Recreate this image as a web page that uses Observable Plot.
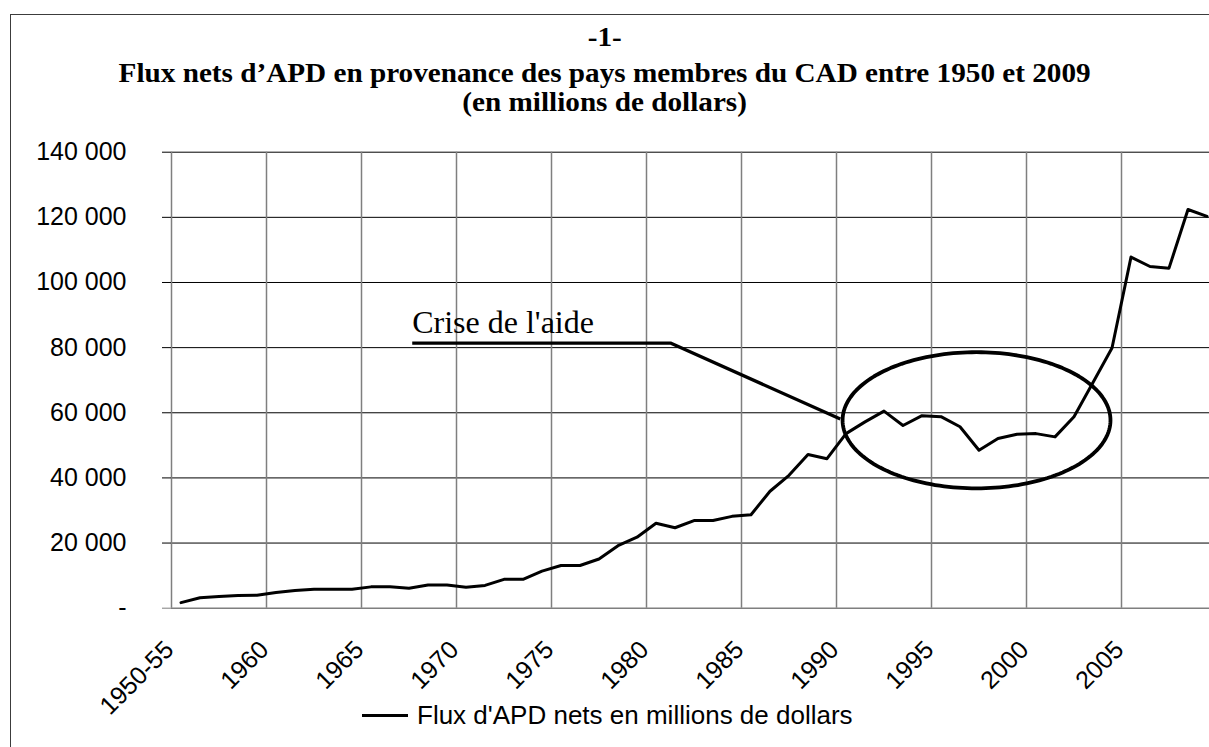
<!DOCTYPE html>
<html>
<head>
<meta charset="utf-8">
<script src="https://cdn.jsdelivr.net/npm/d3@7"></script>
<script src="https://cdn.jsdelivr.net/npm/@observablehq/plot@0.6"></script>
<style>
  html, body { margin: 0; padding: 0; background: #fff; overflow: hidden; }
  #wrap { position: relative; width: 1209px; height: 747px; overflow: hidden; background: #fff; }
  #frame { position: absolute; left: 10px; top: 14px; width: 1400px; height: 900px; border: 1px solid #3c3c3c; box-sizing: border-box; pointer-events: none; }
  .t { position: absolute; left: 0; width: 1209px; text-align: center; white-space: nowrap;
       font-family: "Liberation Serif", "Times New Roman", serif; font-weight: bold; color: #000;
       font-size: 27px; line-height: 27px; }
  .t span { display: inline-block; transform-origin: 50% 50%; }
  #chart { position: absolute; left: 0; top: 130px; }
  #legend { position: absolute; left: 362px; top: 702px; height: 26px; white-space: nowrap;
            font-family: "Liberation Sans", Arial, sans-serif; font-size: 26px; line-height: 26px; color: #000; }
  #legend .sw { display: inline-block; width: 46px; height: 0; border-top: 3px solid #000; vertical-align: middle; margin-right: 9px; position: relative; top: -2px; }
</style>
</head>
<body>
<div id="wrap">
  <div id="frame"></div>
  <div class="t" id="t1" style="top:24px"><span></span></div>
  <div class="t" id="t2" style="top:60px"><span></span></div>
  <div class="t" id="t3" style="top:89px"><span></span></div>
  <div id="chart"></div>
  <div id="legend"><span class="sw"></span><span id="legtext"></span></div>
</div>
<script>
// ---- Data ----
const titleLines = ["-1-", "Flux nets d\u2019APD en provenance des pays membres du CAD entre 1950 et 2009", "(en millions de dollars)"];
const seriesName = "Flux d'APD nets en millions de dollars";

const categories = ["1950-55","1956","1957","1958","1959","1960","1961","1962","1963","1964",
  "1965","1966","1967","1968","1969","1970","1971","1972","1973","1974",
  "1975","1976","1977","1978","1979","1980","1981","1982","1983","1984",
  "1985","1986","1987","1988","1989","1990","1991","1992","1993","1994",
  "1995","1996","1997","1998","1999","2000","2001","2002","2003","2004",
  "2005","2006","2007","2008","2009"];

const values = [1700, 3200, 3600, 3900, 4000, 4800, 5400, 5850, 5850, 5850,
  6550, 6550, 6150, 7100, 7100, 6450, 7000, 8850, 8850, 11400,
  13100, 13100, 15100, 19200, 21800, 26100, 24700, 26900, 26900, 28200,
  28700, 35900, 40800, 47200, 45900, 53600, 57200, 60500, 56100, 59100,
  58800, 55700, 48500, 52100, 53400, 53600, 52600, 58800, 69300, 79900,
  107800, 104900, 104400, 122400, 120300];

const xTickLabels = ["1950-55","1960","1965","1970","1975","1980","1985","1990","1995","2000","2005"];
const yTicks = [0, 20000, 40000, 60000, 80000, 100000, 120000, 140000];

// Annotation "Crise de l'aide" (category index, value)
const calloutLabel = "Crise de l'aide";
const calloutIdx = [12.17, 25.76, 34.7];
const calloutVal = [81400, 81400, 58100];
// Ellipse around the 1990s (center index/value, radii)
const ellipseCenter = [41.87, 57700];
const ellipseRadius = [7.05, 20900];

// ---- Build ----
const data = categories.map((c, i) => ({i, c, v: values[i]}));
const tickIdx = xTickLabels.map(l => categories.indexOf(l));
const gridX = tickIdx.map(i => i - 0.5);
const callout = calloutIdx.map((x, k) => ({x, y: calloutVal[k]}));
const ellipse = d3.range(0, 360, 2).map(a => ({
  x: ellipseCenter[0] + ellipseRadius[0] * Math.cos(a * Math.PI / 180),
  y: ellipseCenter[1] + ellipseRadius[1] * Math.sin(a * Math.PI / 180)
}));
const fmt = d => d === 0 ? "-" : d3.format(",")(d).replace(/,/g, " ");

const chart = Plot.plot({
  width: 1209,
  height: 617,
  marginTop: 21.7,
  marginBottom: 139.3,
  marginLeft: 171,
  marginRight: 0,
  x: {type: "linear", axis: null, domain: [-0.5, categories.length - 0.5], range: [171, 171 + 19 * categories.length]},
  y: {domain: [0, 140000]},
  style: {fontFamily: "'Liberation Sans', Arial, sans-serif", fontSize: "25px", color: "#000", background: "transparent"},
  marks: [
    Plot.ruleY(yTicks.filter(d => d > 0), {x1: -0.5, x2: categories.length - 0.5, stroke: "#000", strokeWidth: 1}),
    Plot.ruleX(gridX, {y1: 0, y2: 140000, stroke: "#7f7f7f", strokeWidth: 1.5}),
    Plot.ruleY([0], {x1: -0.5, x2: categories.length - 0.5, stroke: "#7f7f7f", strokeWidth: 1.5}),
    Plot.axisY({ticks: yTicks, tickSize: 9, tickPadding: 36, tickFormat: fmt, stroke: d => d === 0 ? "#7f7f7f" : "#000", fontSize: 25, label: null}),
    Plot.text(tickIdx, {x: d => d, frameAnchor: "bottom", text: d => categories[d], rotate: -45,
      textAnchor: "end", lineAnchor: "bottom", dx: -6, dy: 43, fontSize: 25, fill: "#000"}),
    Plot.line(callout, {x: "x", y: "y", stroke: "#000", strokeWidth: 3.3, strokeLinejoin: "miter", strokeLinecap: "butt"}),
    Plot.text([calloutLabel], {x: () => calloutIdx[0], y: () => calloutVal[0], text: d => d, textAnchor: "start",
      lineAnchor: "bottom", dy: -10, fontSize: 32, fontFamily: "'Liberation Serif', 'Times New Roman', serif", fill: "#000"}),
    Plot.line(ellipse, {x: "x", y: "y", curve: "linear-closed", stroke: "#000", strokeWidth: 3.8}),
    Plot.line(data, {x: "i", y: "v", stroke: "#000", strokeWidth: 3})
  ]
});
document.getElementById("chart").appendChild(chart);

// titles & legend
["t1","t2","t3"].forEach((id, k) => {
  document.querySelector("#" + id + " span").textContent = titleLines[k];
});
document.getElementById("legtext").textContent = seriesName;
const s2 = document.querySelector("#t2 span");
const k2 = 972 / s2.getBoundingClientRect().width;
["t1","t2","t3"].forEach(id => {
  document.querySelector("#" + id + " span").style.transform = `scaleX(${k2})`;
});
</script>
</body>
</html>
